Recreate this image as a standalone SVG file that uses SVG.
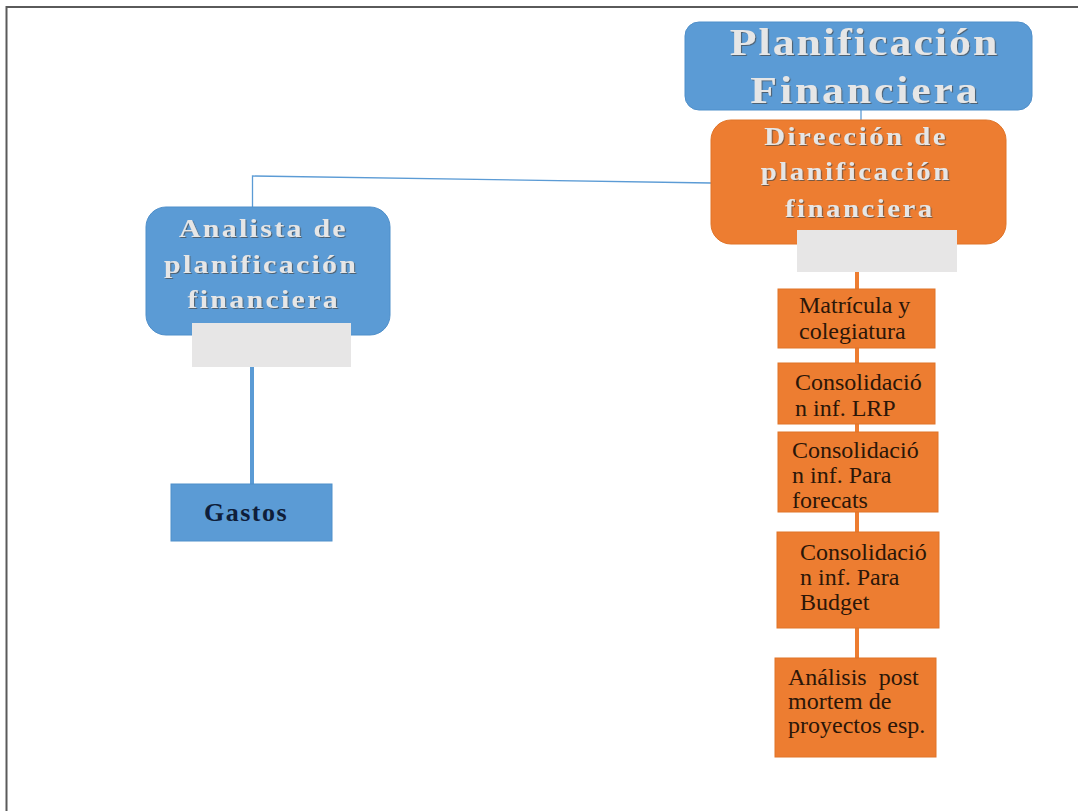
<svg xmlns="http://www.w3.org/2000/svg" width="1078" height="811" viewBox="0 0 1078 811">
  <defs>
    <filter id="emboss" x="-5%" y="-20%" width="110%" height="140%">
      <feDropShadow dx="1" dy="1" stdDeviation="0.6" flood-color="#4a4a4a" flood-opacity="0.7"/>
    </filter>
  </defs>
  <style>
    .blue { fill: #5b9bd5; stroke: #4f8fca; stroke-width: 1; }
    .orange { fill: #ed7d31; stroke: #e07428; stroke-width: 1; }
    .tab { fill: #e7e6e6; }
    .head { font-family: "Liberation Serif", "DejaVu Serif", serif; font-weight: bold; fill: #e6e6e6; text-anchor: middle; filter: url(#emboss); }
    .item { font-family: "Liberation Serif", "DejaVu Serif", serif; font-size: 24px; fill: #2b1608; }
    .thin { fill: none; stroke: #5b9bd5; stroke-width: 1.3; }
    .blueBar { fill: none; stroke: #5b9bd5; stroke-width: 4; }
    .orangeBar { fill: none; stroke: #ed7d31; stroke-width: 4; }
  </style>

  <rect width="1078" height="811" fill="#ffffff"/>
  <!-- page frame -->
  <path d="M6.5,811 V7 H1078" fill="none" stroke="#5a5a5a" stroke-width="2"/>

  <!-- connectors -->
  <g id="connectors">
    <line class="thin" x1="861" y1="110" x2="861" y2="121"/>
    <polyline class="thin" points="711,183 252.5,176 252.5,207"/>
    <line class="blueBar" x1="252" y1="367" x2="252" y2="484"/>
    <line class="orangeBar" x1="857" y1="272" x2="857" y2="659"/>
  </g>

  <g id="node-planificacion">
    <rect class="blue" x="685" y="22" width="347" height="88" rx="14"/>
    <!-- headings use a horizontally widened serif, scaled about their centre -->
    <g transform="translate(870 0) scale(1.15 1)">
      <text class="head" font-size="38">
        <tspan x="0" y="55" letter-spacing="1.8">Planificación</tspan>
        <tspan x="-4" y="103" letter-spacing="2.5">Financiera</tspan>
      </text>
    </g>
  </g>

  <g id="node-direccion">
    <rect class="orange" x="711" y="120" width="295" height="124" rx="20"/>
    <g transform="translate(861 0) scale(1.15 1)">
      <text class="head" font-size="25" letter-spacing="2.2">
        <tspan x="0" y="145">Dirección de</tspan>
        <tspan x="0" y="180">planificación</tspan>
        <tspan x="-1" y="217">financiera</tspan>
      </text>
    </g>
    <rect class="tab" x="797" y="230" width="160" height="42"/>
  </g>

  <g id="node-analista">
    <rect class="blue" x="146" y="207" width="244" height="128" rx="20"/>
    <g transform="translate(266 0) scale(1.15 1)">
      <text class="head" font-size="26" letter-spacing="2">
        <tspan x="2" y="237">Analista de</tspan>
        <tspan x="0" y="273">planificación</tspan>
        <tspan x="-2" y="308">financiera</tspan>
      </text>
    </g>
    <rect class="tab" x="192" y="323" width="159" height="44"/>
  </g>

  <g id="node-gastos">
    <rect class="blue" x="171" y="484" width="161" height="57" stroke="none"/>
    <text x="246" y="521" font-family="Liberation Serif, DejaVu Serif, serif" font-weight="bold" font-size="26" letter-spacing="1.5" fill="#0f1e3a" text-anchor="middle">Gastos</text>
  </g>

  <g id="node-matricula">
    <rect class="orange" x="778" y="289" width="157" height="59"/>
    <text class="item"><tspan x="799" y="313">Matrícula y</tspan><tspan x="799" y="339">colegiatura</tspan></text>
  </g>

  <g id="node-lrp">
    <rect class="orange" x="778" y="363" width="157" height="61"/>
    <text class="item"><tspan x="795" y="390">Consolidació</tspan><tspan x="795" y="416">n inf. LRP</tspan></text>
  </g>

  <g id="node-forecats">
    <rect class="orange" x="778" y="432" width="160" height="80"/>
    <text class="item"><tspan x="792" y="458">Consolidació</tspan><tspan x="792" y="483">n inf. Para</tspan><tspan x="792" y="508">forecats</tspan></text>
  </g>

  <g id="node-budget">
    <rect class="orange" x="777" y="532" width="162" height="96"/>
    <text class="item"><tspan x="800" y="560">Consolidació</tspan><tspan x="800" y="585">n inf. Para</tspan><tspan x="800" y="610">Budget</tspan></text>
  </g>

  <g id="node-analisis">
    <rect class="orange" x="775" y="658" width="161" height="99"/>
    <text class="item"><tspan x="788" y="685" xml:space="preserve">Análisis  post</tspan><tspan x="788" y="709">mortem de</tspan><tspan x="788" y="733">proyectos esp.</tspan></text>
  </g>
</svg>
